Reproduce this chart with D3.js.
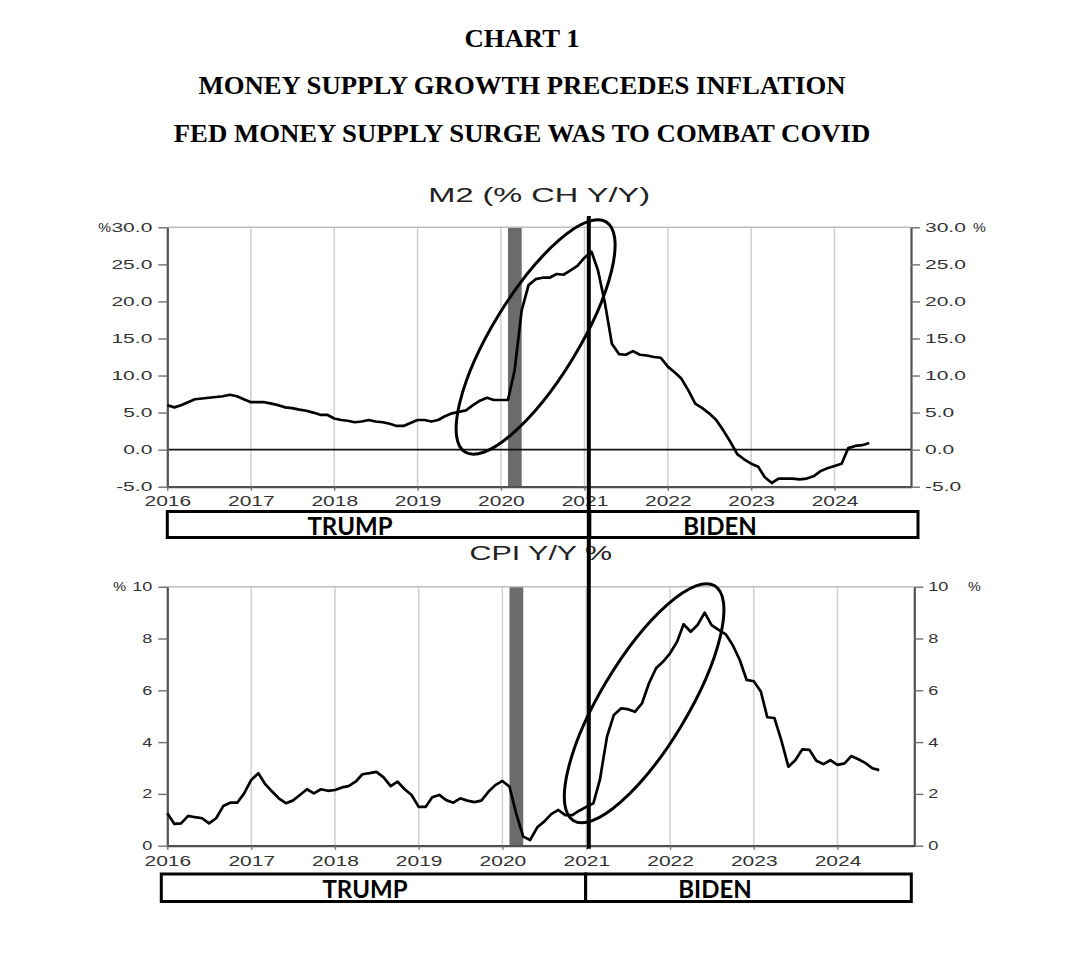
<!DOCTYPE html>
<html>
<head>
<meta charset="utf-8">
<script src="https://cdn.jsdelivr.net/npm/d3@7"></script>
<style>
  body { margin: 0; background: #fff; }
  text { fill: #222; }
</style>
</head>
<body>
<svg id="chart" width="1082" height="963"></svg>
<script>
"use strict";

// monthly readings, first value = Jan 2016
const startMonth = new Date(2016, 0, 1);
const endMonth = new Date(2024, 11, 1);

const m2Values = [
  6.0, 5.7, 6.0, 6.4, 6.8, 6.9, 7.0, 7.1, 7.2, 7.4, 7.2, 6.8,
  6.4, 6.4, 6.4, 6.2, 6.0, 5.7, 5.6, 5.4, 5.25, 5.0, 4.7, 4.7,
  4.2, 4.0, 3.9, 3.7, 3.8, 4.0, 3.8, 3.7, 3.5, 3.2, 3.2, 3.6,
  4.0, 4.0, 3.8, 4.0, 4.5, 4.9, 5.1, 5.3, 6.0, 6.6, 7.0, 6.7,
  6.7, 6.7, 10.7, 18.8, 22.2, 23.0, 23.2, 23.2, 23.7, 23.6, 24.2, 24.8,
  25.9, 26.7, 24.2, 19.7, 14.3, 12.9, 12.8, 13.3, 12.8, 12.7, 12.5, 12.4,
  11.2, 10.4, 9.6, 8.0, 6.2, 5.6, 4.9, 4.0, 2.6, 1.1, -0.6, -1.3,
  -1.9, -2.3, -3.7, -4.5, -3.9, -3.9, -3.9, -4.0, -3.9, -3.6, -2.9, -2.5,
  -2.2, -1.9, 0.2, 0.5, 0.6, 0.9
];

const cpiValues = [
  1.25, 0.84, 0.86, 1.15, 1.1, 1.06, 0.86, 1.06, 1.53, 1.66, 1.66, 2.02,
  2.54, 2.8, 2.4, 2.1, 1.83, 1.64, 1.74, 1.96, 2.18, 2.02, 2.18, 2.12,
  2.15, 2.25, 2.3, 2.47, 2.76, 2.8, 2.85, 2.64, 2.3, 2.47, 2.18, 1.96,
  1.5, 1.5, 1.87, 1.96, 1.76, 1.66, 1.83, 1.74, 1.68, 1.74, 2.08, 2.34,
  2.5, 2.28, 1.25, 0.35, 0.22, 0.71, 0.93, 1.22, 1.38, 1.18, 1.18, 1.35,
  1.5, 1.64, 2.54, 4.2, 5.05, 5.3, 5.27, 5.17, 5.5, 6.27, 6.85, 7.1,
  7.43, 7.88, 8.55, 8.26, 8.52, 9.0, 8.52, 8.33, 8.16, 7.75, 7.17, 6.4,
  6.35, 5.95, 4.96, 4.93, 4.08, 3.05, 3.3, 3.72, 3.7, 3.28, 3.15, 3.3,
  3.12, 3.18, 3.46, 3.34, 3.2, 2.99, 2.92
];

const yearTicks = d3.range(2016, 2025).map(y => new Date(y, 0, 1));
const m2Ticks = [-5, 0, 5, 10, 15, 20, 25, 30];
const cpiTicks = [0, 2, 4, 6, 8, 10];
const recession = [new Date(2020, 1, 1), new Date(2020, 3, 1)];
const inauguration = new Date(2021, 0, 20);

const titles = [
  "CHART 1",
  "MONEY SUPPLY GROWTH PRECEDES INFLATION",
  "FED MONEY SUPPLY SURGE WAS TO COMBAT COVID"
];
const terms = ["TRUMP", "BIDEN"];

// hand-drawn circles, centred in data units
const m2Circle = { date: new Date(2020, 5, 1), value: 15.2, rx: 135, ry: 43, angle: -58.5 };
const cpiCircle = { date: new Date(2021, 8, 10), value: 5.5, rx: 137, ry: 43.5, angle: -59 };

const svg = d3.select("#chart");
const SANS = "'Liberation Sans', Arial, sans-serif";

// stretched text helper (the source art is squashed wide)
function wideText(parent, x, y, str, size, sx, anchor) {
  return parent.append("text")
    .attr("transform", "translate(" + x + "," + y + ") scale(" + sx + ",1)")
    .attr("text-anchor", anchor || "middle")
    .style("font-family", SANS)
    .style("font-size", size + "px")
    .text(str);
}

function stretchTicks(sel, sx) {
  sel.selectAll("text").each(function() {
    const t = d3.select(this);
    const x = +t.attr("x") || 0;
    t.attr("x", x / sx).attr("transform", "scale(" + sx + ",1)");
  });
}

// titles
titles.forEach(function(t, i) {
  svg.append("text")
    .attr("transform", "translate(522," + (47 + i * 47.3) + ") scale(1.07,1)")
    .attr("text-anchor", "middle")
    .style("font-family", "'Liberation Serif', 'Times New Roman', serif")
    .style("font-weight", "bold")
    .style("font-size", "25px")
    .style("fill", "#000")
    .text(t);
});

function drawPanel(cfg) {
  const x = d3.scaleTime().domain([startMonth, endMonth]).range([cfg.left, cfg.right]);
  const y = d3.scaleLinear().domain(cfg.domain).range([cfg.bottom, cfg.top]);
  const g = svg.append("g");

  // recession band
  g.append("rect")
    .attr("x", x(recession[0]))
    .attr("y", cfg.top)
    .attr("width", x(recession[1]) - x(recession[0]))
    .attr("height", cfg.bottom - cfg.top)
    .attr("fill", "#6b6b6b");

  // year grid
  g.selectAll(".grid")
    .data(yearTicks.slice(1))
    .enter()
    .append("line")
    .attr("x1", d => x(d)).attr("x2", d => x(d))
    .attr("y1", cfg.top).attr("y2", cfg.bottom)
    .attr("stroke", "#cfcfcf")
    .attr("stroke-width", 1.5);

  g.append("line")
    .attr("x1", cfg.left).attr("x2", cfg.right)
    .attr("y1", cfg.top).attr("y2", cfg.top)
    .attr("stroke", "#bdbdbd").attr("stroke-width", 1.5);

  if (cfg.domain[0] < 0) {
    g.append("line")
      .attr("x1", cfg.left).attr("x2", cfg.right)
      .attr("y1", y(0)).attr("y2", y(0))
      .attr("stroke", "#111").attr("stroke-width", 1.6);
  }

  // axes
  const fmt = cfg.fmt;
  const left = g.append("g")
    .attr("transform", "translate(" + cfg.left + ",0)")
    .call(d3.axisLeft(y).tickValues(cfg.ticks).tickFormat(fmt).tickSize(9).tickSizeOuter(0).tickPadding(cfg.pad));
  const right = g.append("g")
    .attr("transform", "translate(" + cfg.right + ",0)")
    .call(d3.axisRight(y).tickValues(cfg.ticks).tickFormat(fmt).tickSize(9).tickSizeOuter(0).tickPadding(cfg.pad - 1));
  const bottom = g.append("g")
    .attr("transform", "translate(0," + cfg.bottom + ")")
    .call(d3.axisBottom(x).tickValues(yearTicks).tickFormat(d3.timeFormat("%Y")).tickSize(4).tickSizeOuter(0).tickPadding(cfg.yearPad));

  [left, right, bottom].forEach(function(a) {
    a.select(".domain").attr("stroke", "#505050").attr("stroke-width", 2.2);
    a.selectAll(".tick line").attr("stroke", "#707070").attr("stroke-width", 1.4);
    a.selectAll("text").style("font-family", SANS).style("fill", "#333");
  });
  left.selectAll("text").style("font-size", cfg.tickSize + "px");
  right.selectAll("text").style("font-size", cfg.tickSize + "px");
  bottom.selectAll("text").style("font-size", "14px");
  stretchTicks(left, cfg.tickStretch);
  stretchTicks(right, cfg.tickStretch);
  stretchTicks(bottom, 1.5);

  // series
  const line = d3.line()
    .x((d, i) => x(d3.timeMonth.offset(startMonth, i)))
    .y(d => y(d));
  g.append("path")
    .datum(cfg.values)
    .attr("d", line)
    .attr("fill", "none")
    .attr("stroke", "#000")
    .attr("stroke-width", 2.7)
    .attr("stroke-linejoin", "round");

  // circle annotation
  const c = cfg.circle;
  g.append("ellipse")
    .attr("transform", "translate(" + x(c.date) + "," + y(c.value) + ") rotate(" + c.angle + ")")
    .attr("rx", c.rx).attr("ry", c.ry)
    .attr("fill", "none")
    .attr("stroke", "#000")
    .attr("stroke-width", 3);

  // title and unit marks
  wideText(g, (cfg.left + cfg.right) / 2, cfg.titleY, cfg.title, 21, cfg.titleStretch);
  wideText(g, cfg.pctLeft, y(cfg.domain[1]) + 4.5, "%", 12.5, 1.15, "end");
  wideText(g, cfg.pctRight, y(cfg.domain[1]) + 4.5, "%", 12.5, 1.15, "start");

  return { x: x, y: y };
}

const m2Panel = drawPanel({
  values: m2Values, domain: [-5, 30], ticks: m2Ticks, fmt: d => d.toFixed(1),
  left: 167.3, right: 911, top: 227.3, bottom: 486.7,
  tickSize: 12, tickStretch: 1.75, pad: 6, yearPad: 5,
  circle: m2Circle,
  title: "M2 (% CH Y/Y)", titleY: 201.5, titleStretch: 1.55,
  pctLeft: 111, pctRight: 973
});

const cpiPanel = drawPanel({
  values: cpiValues, domain: [0, 10], ticks: cpiTicks, fmt: d3.format("d"),
  left: 167.3, right: 914.3, top: 586.7, bottom: 845.7,
  tickSize: 12.5, tickStretch: 1.45, pad: 6, yearPad: 6.5,
  circle: cpiCircle,
  title: "CPI Y/Y %", titleY: 560, titleStretch: 1.45,
  pctLeft: 126, pctRight: 968
});

// president term boxes
function termBoxes(x0, xMid, x1, yTop, h, labels, labelY) {
  const g = svg.append("g");
  [[x0, xMid], [xMid, x1]].forEach(function(b, i) {
    g.append("rect")
      .attr("x", b[0]).attr("y", yTop)
      .attr("width", b[1] - b[0]).attr("height", h)
      .attr("fill", "#fff")
      .attr("stroke", "#000")
      .attr("stroke-width", 3);
    g.append("text")
      .attr("x", labels[i]).attr("y", labelY)
      .attr("text-anchor", "middle")
      .style("font-family", "Lato, 'Open Sans', sans-serif")
      .style("font-weight", "bold")
      .style("font-size", "24px")
      .style("fill", "#000")
      .text(terms[i]);
  });
}
termBoxes(m2Panel.x(startMonth), m2Panel.x(inauguration) + 1, m2Panel.x(endMonth) + 7, 511.5, 26, [350, 720], 534.5);
termBoxes(cpiPanel.x(startMonth) - 6, cpiPanel.x(inauguration) - 5, cpiPanel.x(endMonth) - 3, 874, 27.5, [365, 715], 898);

// inauguration divider through both panels
svg.append("line")
  .attr("x1", m2Panel.x(inauguration)).attr("x2", m2Panel.x(inauguration))
  .attr("y1", 216).attr("y2", cpiPanel.y(0) + 3)
  .attr("stroke", "#000")
  .attr("stroke-width", 4);
</script>
</body>
</html>
